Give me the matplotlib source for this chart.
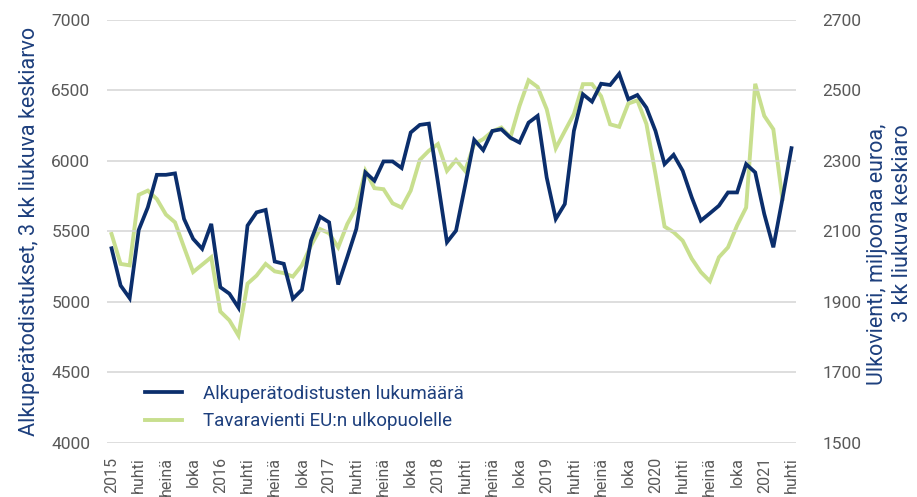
import matplotlib
matplotlib.use("Agg")
import matplotlib.pyplot as plt

# monthly series, Jan 2015 .. Apr 2021 (3 month moving averages)
certificates = [
    5381, 5117, 5027, 5511, 5671, 5902, 5902, 5912, 5589, 5448, 5377, 5554,
    5105, 5059, 4960, 5542, 5636, 5653, 5287, 5271, 5023, 5087, 5436, 5605,
    5565, 5124, 5318, 5518, 5919, 5860, 5997, 5997, 5950, 6202, 6256, 6265,
    5850, 5424, 5506, 5825, 6150, 6077, 6213, 6225, 6165, 6131, 6272, 6320,
    5883, 5589, 5695, 6213, 6473, 6421, 6548, 6539, 6619, 6438, 6468, 6378,
    6213, 5978, 6044, 5931, 5742, 5577, 5629, 5683, 5777, 5777, 5978, 5919,
    5624, 5388, 5730, 6091,
]
exports = [
    2093, 2008, 2004, 2204, 2216, 2192, 2148, 2126, 2055, 1985, 2006, 2027,
    1873, 1848, 1805, 1952, 1975, 2008, 1987, 1982, 1972, 2004, 2060, 2107,
    2095, 2055, 2121, 2168, 2272, 2223, 2220, 2180, 2168, 2216, 2303, 2329,
    2348, 2272, 2303, 2272, 2348, 2362, 2384, 2395, 2367, 2456, 2529, 2510,
    2447, 2336, 2385, 2433, 2518, 2518, 2484, 2404, 2397, 2463, 2472, 2405,
    2263, 2114, 2098, 2074, 2023, 1985, 1959, 2027, 2055, 2117, 2168, 2519,
    2428, 2390, 2192,
]
years = ["2015", "2016", "2017", "2018", "2019", "2020", "2021"]
quarter_names = ["huhti", "heinä", "loka"]

label_cert = "Alkuperätodistusten lukumäärä"
label_exp = "Tavaravienti EU:n ulkopuolelle"
left_title = "Alkuperätodistukset, 3 kk liukuva keskiarvo"
right_title = "Ulkovienti, miljoonaa euroa,\n3 kk liukuva keskiaro"

NAVY = "#0b2e6c"
GREEN = "#c8df8e"
TITLE_BLUE = "#1d3f7d"
GREY = "#595959"

plt.rcParams["font.family"] = ["Roboto", "DejaVu Sans"]

fig = plt.figure(figsize=(9.17, 4.97), dpi=100)
W, H = 917, 497
ax = fig.add_axes([107 / W, 1 - 443 / H, (796 - 107) / W, (443 - 20) / H])
ax2 = ax.twinx()

x_cert = list(range(len(certificates)))
x_exp = list(range(len(exports)))
l1, = ax.plot(x_cert, certificates, color=NAVY, lw=2.7, solid_joinstyle="miter", zorder=3)
l2, = ax2.plot(x_exp, exports, color=GREEN, lw=2.8, solid_joinstyle="miter", zorder=2)
ax.set_zorder(ax2.get_zorder() + 1)
ax.patch.set_visible(False)

ax.set_xlim(-0.5, len(certificates) - 0.5)
ax.set_ylim(4000, 7000)
ax2.set_ylim(1500, 2700)
ax.set_yticks(range(4000, 7001, 500))
ax2.set_yticks(range(1500, 2701, 200))

tick_labels = []
for y in years:
    tick_labels.append(y)
    tick_labels.extend(quarter_names)
tick_pos = list(range(0, len(certificates), 3))
ax.set_xticks(tick_pos)
ax.set_xticklabels(tick_labels[:len(tick_pos)], rotation=90, va="top", ha="center")

ax.grid(axis="y", color="#d4d4d4", lw=1.1)
ax.set_axisbelow(True)
for a in (ax, ax2):
    for s in a.spines.values():
        s.set_visible(False)
    a.tick_params(length=0, labelsize=12.5, labelcolor=GREY)
ax.tick_params(axis="x", pad=10, labelsize=11.5)
ax.tick_params(axis="y", pad=12)
ax2.tick_params(axis="y", pad=19)

ax.set_ylabel(left_title, color=TITLE_BLUE, fontsize=15.5, labelpad=8)
fig.text(890 / W, 1 - 124 / H, right_title, rotation=90, ha="center", va="top",
         multialignment="right", color=TITLE_BLUE, fontsize=15.5, linespacing=1.3)

ax.legend([l1, l2], [label_cert, label_exp], loc="lower left",
          bbox_to_anchor=(0.055, 0.03), frameon=False, fontsize=13.5,
          labelcolor=TITLE_BLUE, handlelength=2.0, handletextpad=1.1,
          labelspacing=0.5, borderpad=0, borderaxespad=0)

fig.savefig("out.png", dpi=100)
